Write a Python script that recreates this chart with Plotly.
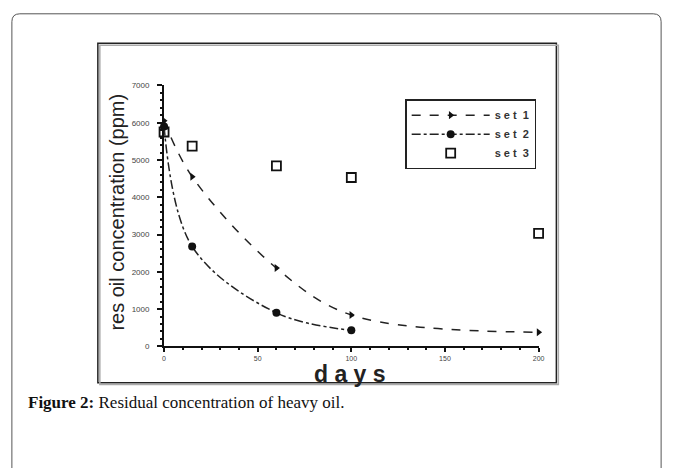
import plotly.graph_objects as go

W, H = 677, 473

days1 = [0, 15, 60, 100, 200]
set1 = [6050, 4550, 2100, 840, 380]
days2 = [0, 15, 60, 100]
set2 = [5900, 2680, 900, 430]
days3 = [0, 15, 60, 100, 200]
set3 = [5750, 5370, 4840, 4530, 3030]

x_ticks = [0, 50, 100, 150, 200]
y_ticks = [0, 1000, 2000, 3000, 4000, 5000, 6000, 7000]

def px(x):
    return x / W

def py(y):
    return 1 - y / H

fig = go.Figure()
fig.add_trace(go.Scatter(
    x=days1, y=set1, name="<b>s e t  1</b>", mode="lines+markers", line_shape="spline",
    line=dict(color="#222", width=1.5, dash="dash"),
    marker=dict(symbol="triangle-right", size=7, color="#111"), cliponaxis=False))
fig.add_trace(go.Scatter(
    x=days2, y=set2, name="<b>s e t  2</b>", mode="lines+markers", line_shape="spline",
    line=dict(color="#222", width=1.5, dash="dashdot"),
    marker=dict(symbol="circle", size=8, color="#111"), cliponaxis=False))
fig.add_trace(go.Scatter(
    x=days3, y=set3, name="<b>s e t  3</b>", mode="markers",
    marker=dict(symbol="square-open", size=9, color="#111", line=dict(width=1.8)),
    cliponaxis=False))

axis_common = dict(showgrid=False, zeroline=False, showline=True, linecolor="#111",
                   linewidth=2, ticks="outside", tickcolor="#111", tickwidth=1.5,
                   tickfont=dict(family="Arial", size=7, color="#444"))

fig.update_xaxes(range=[0, 200], domain=[px(164), px(543)], tickvals=x_ticks,
                 ticktext=[str(v) for v in x_ticks], anchor="y", ticklen=4,
                 minor=dict(ticks="outside", ticklen=2, dtick=10, tickcolor="#111", tickwidth=1.5),
                 **axis_common)
fig.update_yaxes(range=[0, 7000], domain=[py(349), py(83)], tickvals=y_ticks,
                 ticktext=[str(v) for v in y_ticks], anchor="x", ticklen=5, ticklabelstandoff=6,
                 minor=dict(ticks="outside", ticklen=2, dtick=200, tickcolor="#111", tickwidth=1.5),
                 **axis_common)
fig.update_yaxes(tickfont=dict(size=8))

shapes = [
    dict(type="path", xref="paper", yref="paper",
         path=f"M {px(10)} {py(473)} L {px(10)} {py(18)} Q {px(10)} {py(10)} {px(18)} {py(10)} "
              f"L {px(659)} {py(10)} Q {px(667)} {py(10)} {px(667)} {py(18)} L {px(667)} {py(473)}",
         line=dict(color="#555", width=1)),
    dict(type="rect", xref="paper", yref="paper", x0=px(99), x1=px(563), y0=py(388), y1=py(42),
         line=dict(color="#aaa", width=1.5)),
    dict(type="rect", xref="paper", yref="paper", x0=px(97), x1=px(561), y0=py(386), y1=py(40),
         line=dict(color="#222", width=1.5), fillcolor="white", layer="below"),
]

annotations = [
    dict(text="res oil concentration (ppm)", x=px(116), y=py(212), xref="paper", yref="paper",
         xanchor="center", yanchor="middle",
         textangle=-90, showarrow=False, font=dict(family="Arial", size=20, color="#222")),
    dict(text="<b>d a y s</b>", x=px(352), y=py(377), xref="paper", yref="paper",
         xanchor="center", yanchor="middle",
         showarrow=False, font=dict(family="Arial", size=23, color="#222")),
    dict(text="<b>Figure 2:</b> Residual concentration of heavy oil.", x=px(24), y=py(406),
         xref="paper", yref="paper", xanchor="left", yanchor="middle", showarrow=False,
         font=dict(family="Liberation Serif", size=17, color="#111")),
]

fig.update_layout(
    width=W, height=H, margin=dict(l=0, r=0, t=0, b=0),
    paper_bgcolor="white", plot_bgcolor="rgba(0,0,0,0)",
    shapes=shapes, annotations=annotations,
    showlegend=True,
    legend=dict(x=px(408), y=py(97), xanchor="left", yanchor="top",
                bordercolor="#222", borderwidth=1.5, bgcolor="white",
                font=dict(family="Arial", size=11, color="#333"),
                itemwidth=78, tracegroupgap=0),
)

fig.write_html("out.html", config={"displayModeBar": False},
               post_script="document.body.style.margin='0';document.body.style.overflow='hidden';"
                           "document.documentElement.style.overflow='hidden';")
